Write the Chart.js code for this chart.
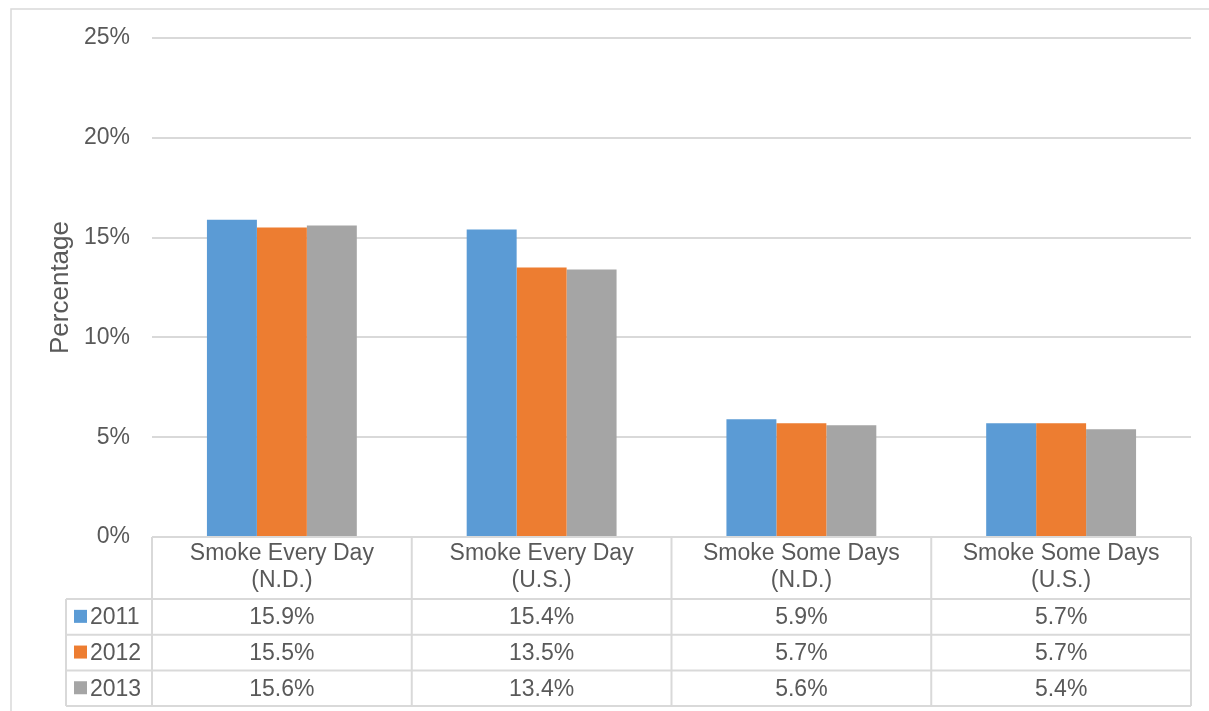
<!DOCTYPE html>
<html>
<head>
<meta charset="utf-8">
<script src="https://cdn.jsdelivr.net/npm/chart.js@4.4.0/dist/chart.umd.min.js"></script>
<style>
  body { margin: 0; background: #fff; }
  canvas { display: block; }
</style>
</head>
<body>
<canvas id="bar" width="1209" height="711"></canvas>
<script>
var categories = [
  ['Smoke Every Day', '(N.D.)'],
  ['Smoke Every Day', '(U.S.)'],
  ['Smoke Some Days', '(N.D.)'],
  ['Smoke Some Days', '(U.S.)']
];
var years = ['2011', '2012', '2013'];
var values2011 = [15.9, 15.4, 5.9, 5.7];
var values2012 = [15.5, 13.5, 5.7, 5.7];
var values2013 = [15.6, 13.4, 5.6, 5.4];
var colors = ['#5B9BD5', '#ED7D31', '#A5A5A5'];

var FONT = "'Liberation Sans', Arial, sans-serif";
var TEXT = '#595959';
var LINE = '#d9d9d9';

// draws the outer frame and the data table under the plot
var tablePlugin = {
  id: 'table',
  beforeDraw: function(chart) {
    var c = chart.ctx;
    c.save();
    c.strokeStyle = LINE;
    c.lineWidth = 1.5;
    c.strokeRect(11, 9, chart.width + 10, chart.height + 10);
    c.restore();
  },
  afterDraw: function(chart) {
    var c = chart.ctx;
    var area = chart.chartArea;
    var x = chart.scales.x;
    var n = categories.length;
    var colW = area.width / n;
    var top = area.bottom;
    var headH = 62, rowH = 35.7;
    var legendLeft = 66;
    var all = [values2011, values2012, values2013];
    var bottom = top + headH + rowH * years.length;

    c.save();
    c.strokeStyle = LINE;
    c.lineWidth = 2;
    c.beginPath();
    // horizontal lines
    c.moveTo(area.left, top); c.lineTo(area.right, top);
    for (var r = 0; r <= years.length; r++) {
      var yy = top + headH + rowH * r;
      c.moveTo(legendLeft, yy); c.lineTo(area.right, yy);
    }
    // vertical lines
    for (var i = 0; i <= n; i++) {
      var xx = area.left + colW * i;
      c.moveTo(xx, top); c.lineTo(xx, bottom);
    }
    c.moveTo(legendLeft, top + headH); c.lineTo(legendLeft, bottom);
    c.stroke();

    c.fillStyle = TEXT;
    c.font = '23px ' + FONT;
    c.textAlign = 'center';
    c.textBaseline = 'middle';
    for (var i = 0; i < n; i++) {
      var cx = x.getPixelForValue(i);
      c.fillText(categories[i][0], cx, top + 17);
      c.fillText(categories[i][1], cx, top + 44);
      for (var r = 0; r < years.length; r++) {
        c.fillText(all[r][i].toFixed(1) + '%', cx, top + headH + rowH * r + rowH / 2 + 1);
      }
    }
    c.textAlign = 'left';
    for (var r = 0; r < years.length; r++) {
      var cy = top + headH + rowH * r + rowH / 2;
      c.fillStyle = colors[r];
      c.fillRect(74, cy - 7, 13, 13);
      c.fillStyle = TEXT;
      c.fillText(years[r], 90, cy + 1);
    }
    c.restore();
  }
};

function init() {
  var ctx = document.getElementById('bar');
  new Chart(ctx, {
    type: 'bar',
    data: {
      labels: categories,
      datasets: [
        { label: years[0], data: values2011, backgroundColor: colors[0] },
        { label: years[1], data: values2012, backgroundColor: colors[1] },
        { label: years[2], data: values2013, backgroundColor: colors[2] }
      ]
    },
    options: {
      responsive: false,
      animation: false,
      layout: { padding: { top: 38, right: 18, bottom: 174, left: 0 } },
      datasets: { bar: { categoryPercentage: 0.577, barPercentage: 1 } },
      plugins: { legend: { display: false }, tooltip: { enabled: false } },
      scales: {
        x: { display: false },
        y: {
          min: 0, max: 25,
          afterFit: function(s) { s.width = 152; },
          ticks: {
            stepSize: 5,
            padding: 22,
            color: TEXT,
            font: { family: FONT, size: 23 },
            callback: function(v) { return v + '%'; }
          },
          grid: { color: LINE, lineWidth: 2, drawTicks: false },
          border: { display: false },
          title: {
            display: true,
            text: 'Percentage',
            color: TEXT,
            font: { family: FONT, size: 26 },
            padding: { top: 45, bottom: 0 }
          }
        }
      }
    },
    plugins: [tablePlugin]
  });
}

init();
</script>
</body>
</html>
